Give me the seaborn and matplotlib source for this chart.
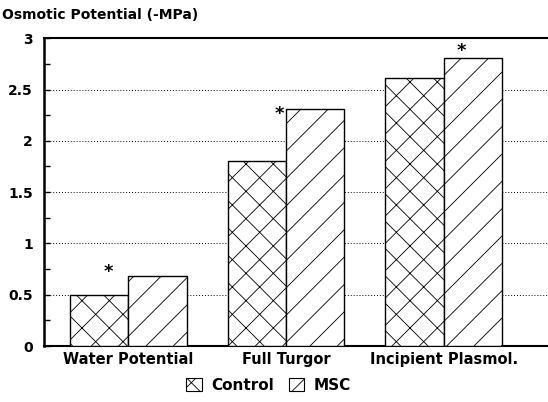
import matplotlib
matplotlib.use("Agg")
import matplotlib.pyplot as plt
import seaborn as sns
import pandas as pd
from matplotlib.patches import Patch

categories = ["Water Potential", "Full Turgor", "Incipient Plasmol."]
groups = ["Control", "MSC"]
control = [0.50, 1.80, 2.61]
msc = [0.68, 2.31, 2.81]
ytick_vals = [0, 0.5, 1, 1.5, 2, 2.5, 3]
ytick_labels = ["0", "0.5", "1", "1.5", "2", "2.5", "3"]
# significance stars: (x in category units, y in data units)
star_x = [-0.13, 0.955, 2.11]
star_y = [0.72, 2.26, 2.88]

df = pd.DataFrame({
    "category": categories * 2,
    "group": [groups[0]] * 3 + [groups[1]] * 3,
    "value": control + msc,
})

sns.set_theme(style="white")
plt.rcParams["font.family"] = ["DejaVu Sans"]
plt.rcParams["font.weight"] = "bold"
plt.rcParams["text.color"] = "black"
plt.rcParams["xtick.color"] = "black"
plt.rcParams["ytick.color"] = "black"
plt.rcParams["axes.labelcolor"] = "black"
plt.rcParams["hatch.linewidth"] = 0.75
plt.rcParams["hatch.color"] = "black"

DPI = 82
K = 100 / DPI  # keep pixel sizes as designed for 100 dpi
fig = plt.figure(figsize=(548 / DPI, 402 / DPI), dpi=DPI)
ax = fig.add_axes([0.080, 0.139, 0.925, 0.766])

sns.barplot(data=df, x="category", y="value", hue="group", hue_order=groups,
            order=categories, palette=["white", "white"], edgecolor="black",
            linewidth=1.0 * K, width=0.74, ax=ax, legend=False, zorder=3)

hatches = ["x", "/"]
for cont, h in zip(ax.containers, hatches):
    for bar in cont:
        bar.set_hatch(h)
        bar.set_edgecolor("black")

ax.set_xlim(-0.537, 2.68)
ax.set_ylim(0, 3)
ax.set_yticks(ytick_vals)
ax.set_yticklabels(ytick_labels, fontsize=10 * K, fontweight="bold")
ax.set_yticks([0.25, 0.75, 1.25, 1.75, 2.25, 2.75], minor=True)
ax.tick_params(axis="y", which="both", direction="in", length=4 * K, width=1 * K,
               left=True, pad=8 * K)
ax.tick_params(axis="x", length=0, pad=4 * K)
for lab in ax.get_xticklabels():
    lab.set_fontsize(10.5 * K)
    lab.set_fontweight("bold")
ax.set_xlabel("")
ax.set_ylabel("")

ax.yaxis.grid(True, which="major", linestyle=(0, (1, 2)), color="black", linewidth=0.7 * K)
ax.set_axisbelow(True)

for s in ["left", "bottom", "top"]:
    ax.spines[s].set_visible(True)
    ax.spines[s].set_color("black")
ax.spines["left"].set_linewidth(1.8 * K)
ax.spines["bottom"].set_linewidth(1.5 * K)
ax.spines["top"].set_linewidth(1.5 * K)
ax.spines["right"].set_visible(False)

for x, y in zip(star_x, star_y):
    ax.text(x, y, "*", ha="center", va="center", fontsize=13 * K,
            fontweight="bold", zorder=6)

fig.text(0.004, 0.963, "Osmotic Potential (-MPa)", ha="left", va="center",
         fontsize=10 * K, fontweight="bold")

handles = [Patch(facecolor="white", edgecolor="black", hatch=h, linewidth=0.8 * K)
           for h in hatches]
fig.legend(handles, groups, loc="center", bbox_to_anchor=(0.49, 0.042), ncol=2,
           frameon=False, handlelength=1.0, handleheight=1.0, handletextpad=0.6,
           columnspacing=1.0, prop={"size": 11 * K, "weight": "bold"})

fig.savefig("out.png", dpi=DPI)
